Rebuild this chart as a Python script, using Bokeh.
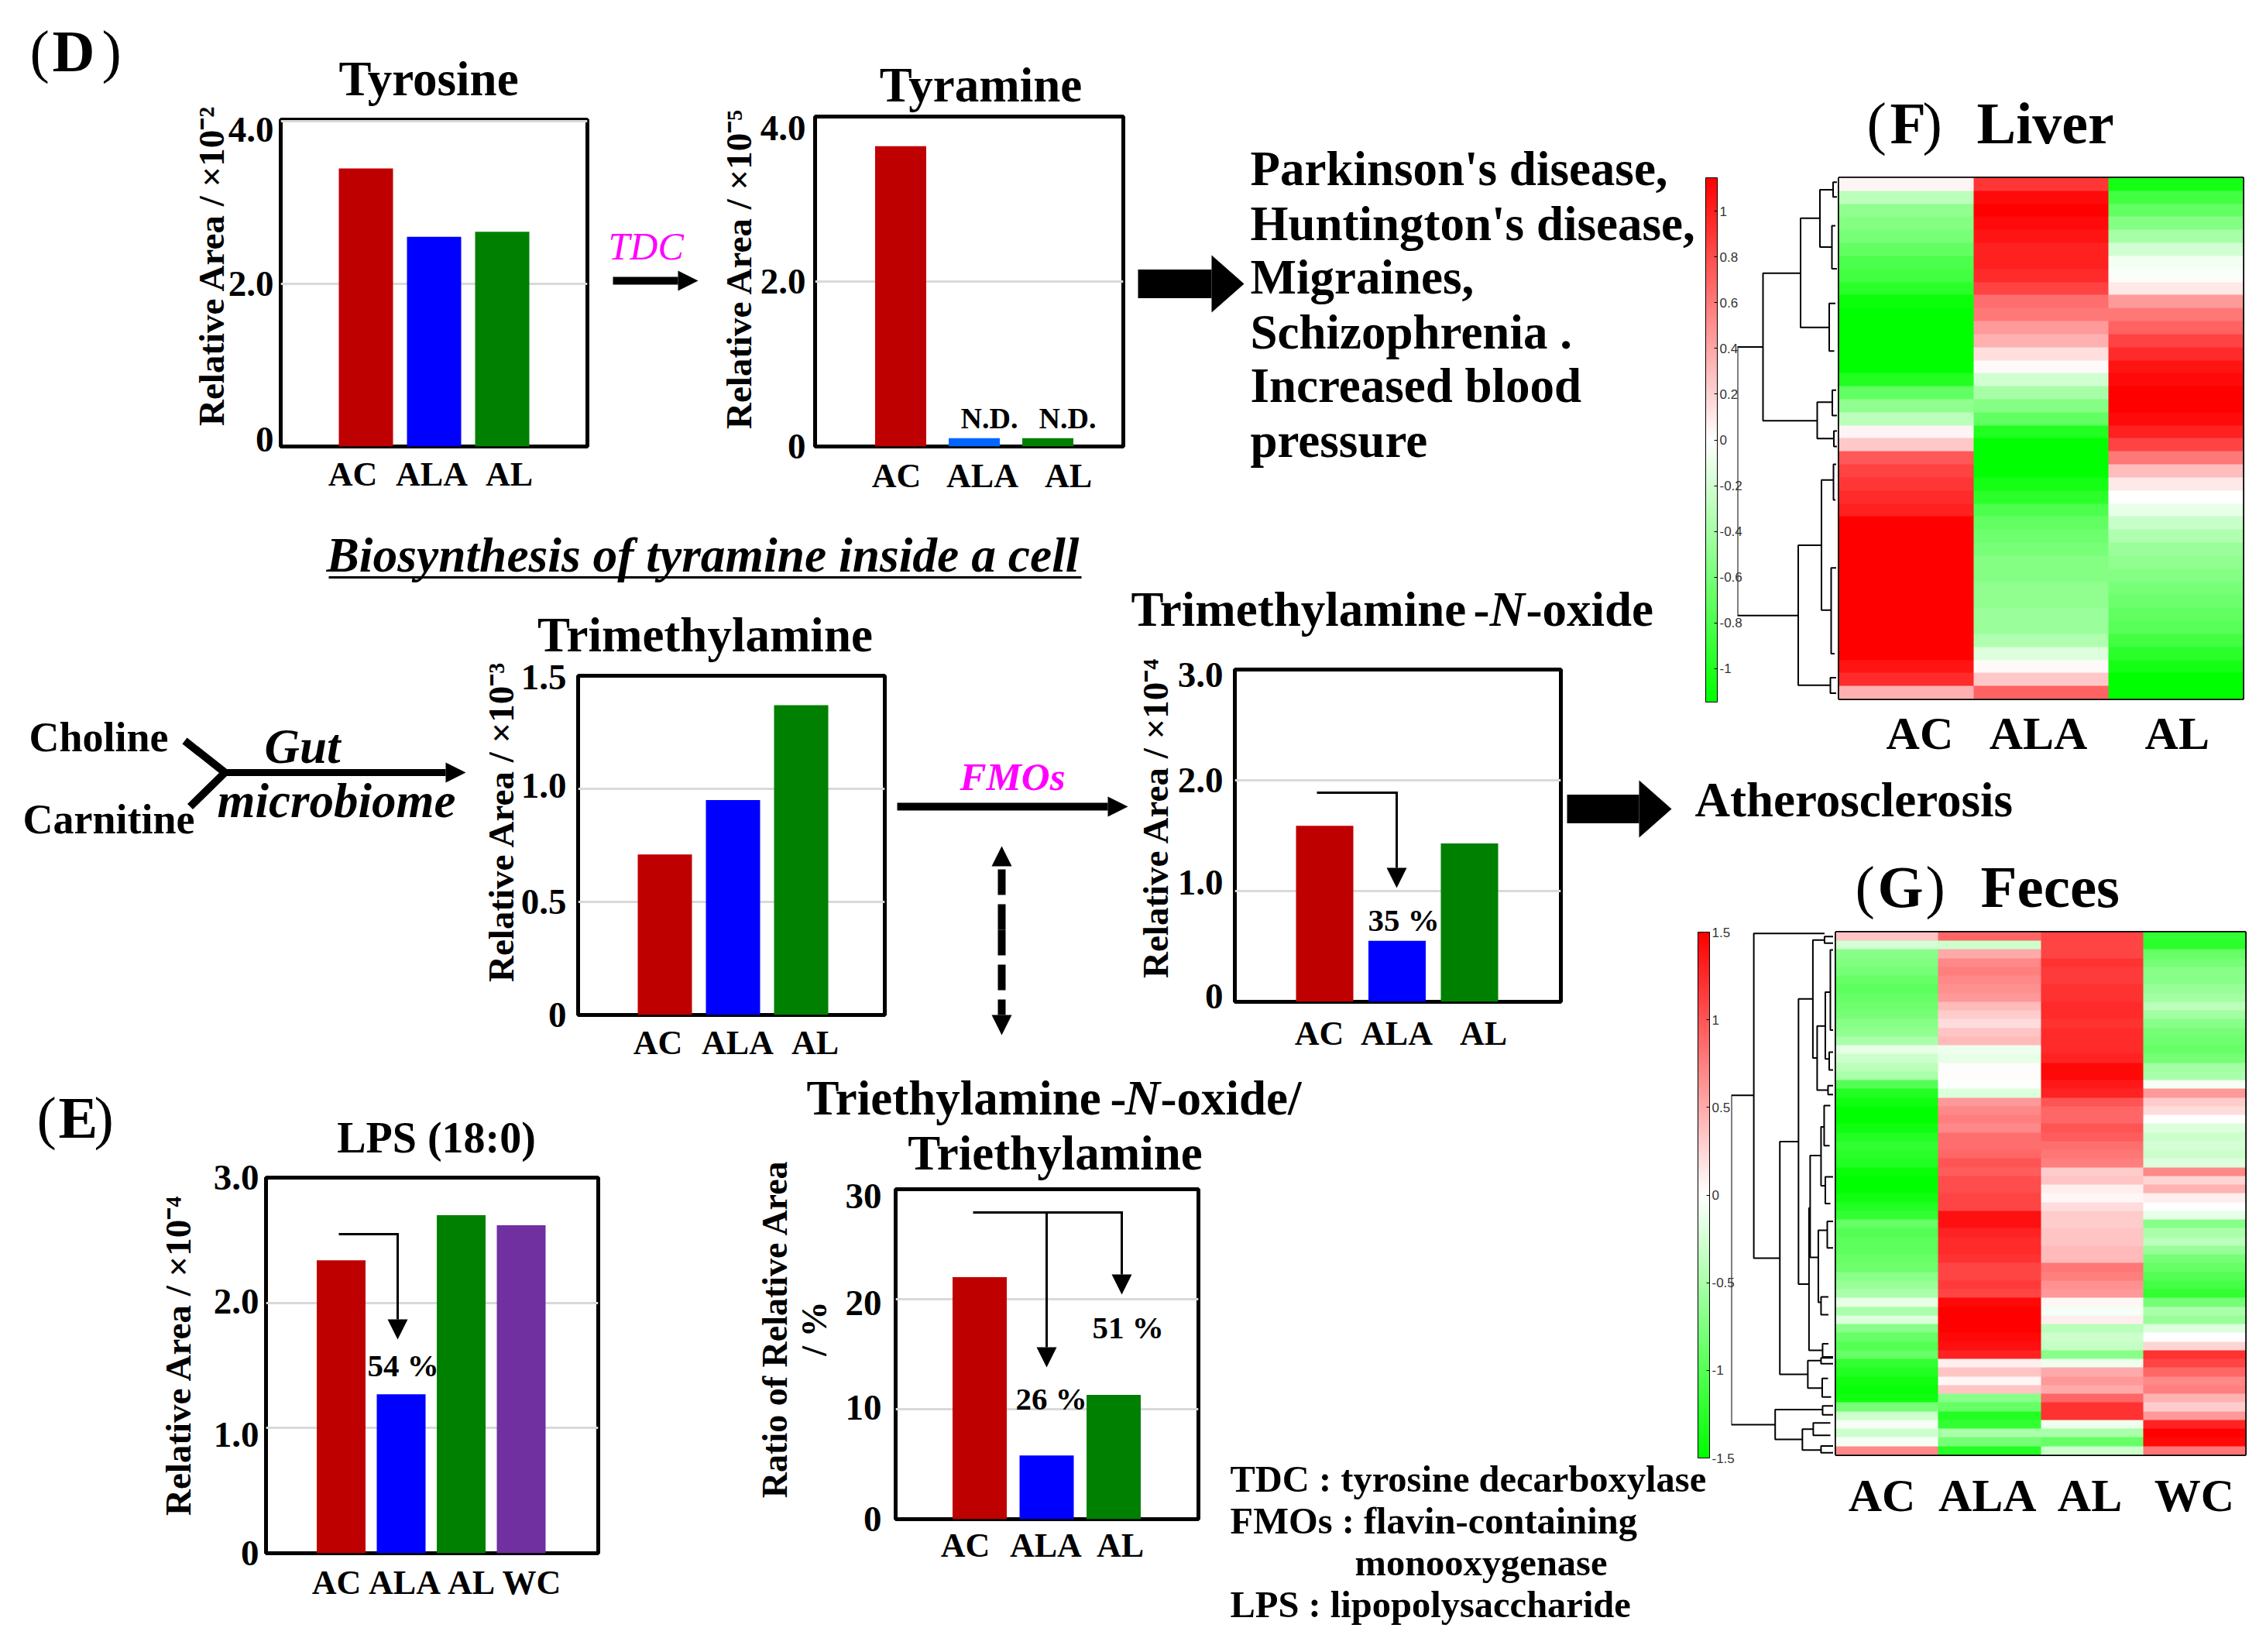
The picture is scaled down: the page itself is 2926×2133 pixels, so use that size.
import math
import numpy as np
from bokeh.plotting import figure
from bokeh.models import Range1d, FixedTicker, LinearColorMapper, ColorBar, NumeralTickFormatter
from bokeh.core.properties import value
from bokeh.embed import file_html
from bokeh.resources import INLINE

# ---------- data ----------
tyrosine = [3.42, 2.58, 2.64]
tyramine = [3.64, 0.10, 0.10]
trimethylamine = [0.71, 0.95, 1.37]
tmao = [1.59, 0.55, 1.43]
lps = [2.34, 1.27, 2.70, 2.62]
ratio = [22.0, 5.8, 11.3]
groups3 = ["AC", "ALA", "AL"]
groups4 = ["AC", "ALA", "AL", "WC"]

liver_ac = [.05,-.3,-.5,-.55,-.6,-.7,-.8,-.85,-.95,-1.1,-1.15,-1.15,-1.15,-1.15,-1.15,-1.0,-.7,-.5,-.3,.05,
            .25,.75,.85,.9,.95,1.0,1.15,1.15,1.15,1.15,1.15,1.15,1.15,1.15,1.15,1.15,1.15,1.05,.95,.35]
liver_ala = [.9,1.1,1.15,1.1,1.05,1.0,1.0,.95,.85,.65,.6,.45,.35,.15,.02,-.2,-.4,-.55,-.7,-1.0,
             -1.15,-1.15,-1.15,-1.05,-.95,-.8,-.7,-.65,-.6,-.55,-.55,-.5,-.5,-.45,-.45,-.35,-.15,.02,.25,.7]
liver_al = [-1.05,-.85,-.7,-.55,-.4,-.2,-.05,-.02,.1,.45,.6,.7,.85,.95,1.05,1.1,1.15,1.15,1.1,1.0,
            .85,.6,.3,.1,0,-.1,-.25,-.35,-.45,-.5,-.55,-.6,-.65,-.7,-.75,-.85,-.95,-1.05,-1.15,-1.15]

feces_ac = [.35,-.25,-.7,-.75,-.8,-.9,-.95,-.9,-.85,-.8,-.7,-.65,-.5,-.15,-.3,-.4,-.5,-1.0,-1.3,-1.4,
            -1.5,-1.5,-1.4,-1.3,-1.2,-1.25,-1.3,-1.45,-1.5,-1.5,-1.4,-1.3,-1.2,-.9,-1.0,-.95,-.95,-.9,-.85,-.7,
            -.6,-.5,-.15,-.5,-.2,-.7,-.9,-1.0,-.9,-1.2,-1.3,-1.4,-1.45,-1.4,-.8,-.3,-.05,-.3,-.05,.7]
feces_ala = [.9,-.3,.5,.7,.75,.7,.65,.6,.4,.3,.2,.35,.4,-.1,-.15,.02,.02,-.02,-.2,.6,
             .7,.75,.7,.85,.85,.9,1.0,.95,1.05,1.05,1.1,1.1,1.4,1.4,1.3,1.25,1.25,1.2,1.1,1.1,
             1.15,1.1,1.45,1.5,1.5,1.5,1.45,1.4,1.3,.1,.35,.05,.35,-.7,-.9,-1.3,-1.2,-.5,-.8,-1.3]
feces_al = [1.1,1.1,1.1,1.2,1.15,1.15,1.2,1.2,1.25,1.25,1.2,1.25,1.25,1.25,1.3,1.45,1.45,1.35,1.3,1.0,
            .9,.9,1.0,.95,.85,.8,.75,.3,.35,.1,.05,.2,.3,.3,.35,.35,.4,.4,.8,.75,
            .65,.6,.05,-.05,.1,-.4,-.3,-.35,-.7,-.1,.5,.6,.5,.9,1.2,1.2,-.1,-.5,-.9,-.3]
feces_wc = [-1.2,-1.25,-.9,-.8,-.7,-.7,-.6,-.55,-.4,-.55,-.7,-.8,-.85,-.9,-.8,-.55,-.5,-.05,.6,.3,
            .2,.0,-.2,-.3,-.25,-.3,-.2,.7,.25,.45,.1,.0,-.15,-.7,-.5,-.4,-.6,-.8,-.9,-1.0,
            -1.1,-1.2,-.8,-.5,-.6,-.2,.0,.25,1.2,1.1,.9,.7,.75,.45,.3,.6,1.3,1.5,1.45,.8]

# dendrogram merges: (merge height, upper branch row, lower branch row, upper child height, lower child height)
dendro_liver = [
    (192,606,1210,258,349),(258,440,772,355,398),(355,316,562,405,429),(405,252,381,439,436),
    (439,235,268,450,450),(436,333,430,445,450),(429,508,615,445,442),(398,730,812,437,441),
    (437,703,760,447,450),(441,795,830,450,450),(349,1052,1367,409,432),(409,905,1198,440,434),
    (440,870,950,447,445),(434,1103,1296,447,443),(432,1350,1385,447,447),
]
dendro_feces = [
    (175,547,1287,233,288),(233,183,913,415,300),(300,651,1174,348,372),(348,330,971,385,375),
    (385,198,463,415,396),(415,190,205,437,437),(396,391,535,417,424),(417,315,465,430,427),
    (424,525,545,437,437),(430,220,400,437,437),(427,450,490,437,437),(375,800,1120,378,410),
    (378,682,911,406,399),(406,618,750,414,417),(414,570,660,430,428),(417,730,790,437,430),
    (399,850,1012,422,406),(422,830,890,437,437),(406,1000,1040,425,425),(410,1105,1135,425,437),
    (372,1143,1205,406,409),(406,1137,1150,437,437),(409,1183,1225,424,432),(288,1253,1320,410,358),
    (410,1245,1265,437,437),(358,1297,1344,386,406),(386,1283,1311,430,430),(406,1335,1350,437,437),
]

# ---------- style and layout ----------
FONT = "Liberation Serif"
RED, BLUE, GREEN, PURPLE, LBLUE = "#BF0000", "#0000FF", "#008000", "#7030A0", "#0066FF"
W, H = 2910, 2117
children = []


def place(p, x, y):
    p.styles = {"position": "absolute", "left": f"{x}px", "top": f"{y}px"}
    children.append(p)


def bar_chart(vals, cols, labels, L, R, T, B, ymax, ticks, tick_labels, c0, pitch, barw, label_x, xstand=14,
              shift=None, ystand=9):
    ml, mr, mt, mb = 140, 6, 40, 90
    p = figure(width=ml + (R - L) + mr, height=mt + (B - T) + mb, output_backend="svg", toolbar_location=None,
               x_range=Range1d((L - c0) / pitch, (R - c0) / pitch), y_range=Range1d(0, ymax),
               min_border_left=ml, min_border_right=mr, min_border_top=mt, min_border_bottom=mb,
               background_fill_color=None, border_fill_color=None)
    p.vbar(x=list(range(len(vals))), top=vals, width=barw / pitch, color=cols, line_width=0)
    p.outline_line_color = "black"
    p.outline_line_width = 5
    p.xgrid.visible = False
    p.ygrid.ticker = FixedTicker(ticks=ticks)
    p.ygrid.grid_line_color = "#D9D9D9"
    p.ygrid.grid_line_width = 3
    xt = [round((v - c0) / pitch, 3) for v in label_x]
    p.xaxis.ticker = FixedTicker(ticks=xt)
    p.xaxis.major_label_overrides = dict(zip(xt, labels))
    # the reference's tick labels sit a few pixels off their grid lines
    scale = (B - T) / ymax
    yt = [round(t - (s / scale), 4) for t, s in zip(ticks, shift or [0] * len(ticks))]
    p.yaxis.ticker = FixedTicker(ticks=yt)
    p.yaxis.major_label_overrides = dict(zip(yt, tick_labels))
    for ax, size, st in ((p.xaxis, "44px", xstand), (p.yaxis, "47px", ystand)):
        ax.major_tick_line_color = None
        ax.minor_tick_line_color = None
        ax.axis_line_color = None
        ax.major_label_text_font = FONT
        ax.major_label_text_font_style = "bold"
        ax.major_label_text_font_size = size
        ax.major_label_text_color = "black"
        ax.major_label_standoff = st
    p.yaxis.major_label_orientation = "horizontal"
    place(p, L - ml, T - mt)
    return p


bar_chart(tyrosine, [RED, BLUE, GREEN], groups3, 362, 758, 154, 576, 4.02, [0, 2, 4], ["0", "2.0", "4.0"],
          472, 88, 70, [455, 557, 657], xstand=5, shift=[-9, 0, 11], ystand=3)
bar_chart(tyramine, [RED, LBLUE, GREEN], groups3, 1052, 1450, 150, 576, 4.0, [0, 2, 4], ["0", "2.0", "4.0"],
          1162.5, 95, 66, [1157, 1268, 1379], xstand=7, shift=[0, 0, 15], ystand=6)
bar_chart(trimethylamine, [RED, BLUE, GREEN], groups3, 746, 1142, 872, 1310, 1.5, [0, .5, 1, 1.5], ["0", "0.5", "1.0", "1.5"],
          858, 88, 70, [849, 952, 1052], xstand=5, shift=[0, 0, -4, 2])
bar_chart(tmao, [RED, BLUE, GREEN], groups3, 1594, 2015, 864, 1293, 3.0, [0, 1, 2, 3], ["0", "1.0", "2.0", "3.0"],
          1710, 93.5, 74, [1703, 1803, 1915], xstand=10, shift=[-7, -11, 0, 7])
bar_chart(lps, [RED, BLUE, GREEN, PURPLE], groups4, 343, 772, 1520, 2005, 3.0, [0, 1, 2, 3], ["0", "1.0", "2.0", "3.0"],
          440, 77.5, 63, [434, 522, 608, 686], xstand=7, shift=[0, 9, -2, 0], ystand=3)
bar_chart(ratio, [RED, BLUE, GREEN], groups3, 1156, 1547, 1535, 1961, 30, [0, 10, 20, 30], ["0", "10", "20", "30"],
          1264.5, 86.5, 70, [1246, 1350, 1446], xstand=3, shift=[0, -2, 5, 9], ystand=12)

# ---------- heat maps ----------
heat_palette = [f"#{int(255 * i / 127):02x}ff{int(255 * i / 127):02x}" for i in range(128)] + \
               [f"#ff{int(255 * (127 - i) / 127):02x}{int(255 * (127 - i) / 127):02x}" for i in range(128)]


def heatmap(cols, labels, L, R, T, B, limit, tick_pos, stand):
    arr = np.array(cols, dtype=float).T[::-1]
    mb = 100
    p = figure(width=R - L + 4, height=B - T + mb + 2, output_backend="svg", toolbar_location=None,
               x_range=Range1d(0, len(cols)), y_range=Range1d(0, arr.shape[0]),
               min_border_left=2, min_border_right=2, min_border_top=2, min_border_bottom=mb,
               background_fill_color=None, border_fill_color=None)
    mapper = LinearColorMapper(palette=heat_palette, low=-limit, high=limit)
    p.image(image=[arr], x=0, y=0, dw=len(cols), dh=arr.shape[0], color_mapper=mapper)
    p.grid.visible = False
    p.yaxis.visible = False
    p.xaxis.ticker = FixedTicker(ticks=tick_pos)
    p.xaxis.major_label_overrides = dict(zip(tick_pos, labels))
    p.xaxis.major_tick_line_color = None
    p.xaxis.minor_tick_line_color = None
    p.xaxis.axis_line_color = None
    p.xaxis.major_label_text_font = FONT
    p.xaxis.major_label_text_font_style = "bold"
    p.xaxis.major_label_text_font_size = "60px"
    p.xaxis.major_label_text_color = "black"
    p.xaxis.major_label_standoff = stand
    p.outline_line_color = "black"
    p.outline_line_width = 3
    place(p, L - 2, T - 2)


def dendrogram(merges, L, R, T, B, z0, z1, r0, r1):
    xs, ys = [], []
    for h, up, lo, cu, cl in merges:
        xs.append([cu, h, h, cl])
        ys.append([up, up, lo, lo])
    p = figure(width=R - L, height=B - T, output_backend="svg", toolbar_location=None,
               x_range=Range1d(z0, z1), y_range=Range1d(r1, r0), min_border=0,
               x_axis_type=None, y_axis_type=None,
               background_fill_color=None, border_fill_color=None, outline_line_color=None)
    p.multi_line(xs=xs, ys=ys, line_color="black", line_width=2)
    p.grid.visible = False
    place(p, L, T)


def colorbar(L, T, B, limit, ticks, digits):
    p = figure(width=110, height=B - T + 24, output_backend="svg", toolbar_location=None,
               x_range=Range1d(0, 1), y_range=Range1d(0, 1), min_border=0,
               x_axis_type=None, y_axis_type=None,
               background_fill_color=None, border_fill_color=None, outline_line_color=None)
    p.grid.visible = False
    mapper = LinearColorMapper(palette=heat_palette, low=-limit, high=limit)
    cb = ColorBar(color_mapper=mapper, ticker=FixedTicker(ticks=ticks), formatter=NumeralTickFormatter(format=digits),
                  location=(0, 12), width=15, height=B - T, padding=0, margin=0,
                  bar_line_color="black", bar_line_width=1, border_line_color=None, background_fill_color=None,
                  major_tick_line_color="black", major_tick_in=4, major_tick_out=0, minor_tick_line_color=None,
                  major_label_text_font="Liberation Sans", major_label_text_font_size="17px",
                  major_label_text_color="#333333", label_standoff=3)
    p.add_layout(cb, "center")
    place(p, L, T - 12)


heatmap([liver_ac, liver_ala, liver_al], groups3, 2374, 2896, 229, 902, 1.146, [0.6, 1.48, 2.51], 5)
dendrogram(dendro_liver, 2243, 2372, 229, 902, 192, 450, 225, 1398)
colorbar(2202, 229, 906, 1.146, [-1, -.8, -.6, -.4, -.2, 0, .2, .4, .6, .8, 1], "0.[0]")

heatmap([feces_ac, feces_ala, feces_al, feces_wc], groups4, 2370, 2899, 1203, 1878, 1.5, [0.45, 1.48, 2.48, 3.5], 13)
dendrogram(dendro_feces, 2235, 2367, 1203, 1878, 175, 438, 180, 1355)
colorbar(2192, 1203, 1882, 1.5, [-1.5, -1, -.5, 0, .5, 1, 1.5], "0.[0]")

# ---------- annotation layer ----------
ov = figure(width=W, height=H, output_backend="svg", toolbar_location=None,
            x_range=Range1d(8, W + 8), y_range=Range1d(H + 8, 8), min_border=0,
            x_axis_type=None, y_axis_type=None,
            background_fill_color=None, border_fill_color=None, outline_line_color=None)
ov.grid.visible = False


def txt(x, y, s, size=63, style="bold", color="black", align="left", angle=0.0, font=FONT):
    if angle:
        x -= 2
    else:
        y -= 4
        if align == "left":
            x -= 3
    ov.text(x=[x], y=[y], text=[s], text_font=value(font), text_font_size=f"{size}px", text_font_style=style,
            text_color=color, text_align=align, text_baseline="middle", angle=angle)


def panel(xo, letter, xl, xc, y):
    txt(xo, y, "(", 76, "normal")
    txt(xl, y, letter, 76)
    txt(xc, y, ")", 76, "normal")


def arrow(points, w, head, half, dash="solid"):
    xs = [q[0] for q in points]
    ys = [q[1] for q in points]
    x1, y1 = points[-1]
    x0, y0 = points[-2]
    d = math.hypot(x1 - x0, y1 - y0)
    ux, uy = (x1 - x0) / d, (y1 - y0) / d
    bx, by = x1 - ux * head, y1 - uy * head
    xs[-1], ys[-1] = bx, by
    ov.line(xs, ys, line_color="black", line_width=w, line_dash=dash, line_join="miter")
    ov.patch([x1, bx - uy * half, bx + uy * half], [y1, by + ux * half, by - ux * half], color="black", line_width=0)


# panels
panel(41, "D", 70, 134, 69)
panel(50, "E", 78, 124, 1446)
panel(2413, "F", 2443, 2485, 162)
txt(2555, 162, "Liver", 76)
panel(2398, "G", 2427, 2489, 1148)
txt(2560, 1148, "Feces", 77)

# chart titles
txt(553, 105, "Tyrosine", align="center")
txt(1266, 113, "Tyramine", align="center")
txt(910, 823, "Trimethylamine", align="center")
txt(563, 1472, "LPS (18:0)", 56, align="center")
txt(1463, 790, "Trimethylamine")
txt(1905, 790, "-")
txt(1926, 790, "N", 63, "bold italic")
txt(1973, 790, "-oxide")
txt(1044, 1421, "Triethylamine")
txt(1436, 1421, "-")
txt(1455, 1421, "N", 63, "bold italic")
txt(1501, 1421, "-oxide/")
txt(1362, 1492, "Triethylamine", align="center")

# y titles
v = math.pi / 2
txt(274, 342, "Relative Area / ×10⁻²", 47, align="center", angle=v)
txt(955, 346, "Relative Area / ×10⁻⁵", 47, align="center", angle=v)
txt(648, 1060, "Relative Area / ×10⁻³", 47, align="center", angle=v)
txt(1493, 1055, "Relative Area / ×10⁻⁴", 47, align="center", angle=v)
txt(231, 1749, "Relative Area / ×10⁻⁴", 47, align="center", angle=v)
txt(1002, 1715, "Ratio of Relative Area", 46, align="center", angle=v)
txt(1053, 1715, "/ %", 46, align="center", angle=v)

# notes
txt(1277, 543, "N.D.", 38, align="center")
txt(1378, 543, "N.D.", 38, align="center")
txt(1812, 1191, "35 %", 41, align="center")
txt(520, 1766, "54 %", 41, align="center")
txt(1456, 1717, "51 %", 41, align="center")
txt(1357, 1809, "26 %", 41, align="center")

txt(788, 321, "TDC", 50, "italic", "#FF00FF")
txt(1307, 1006, "FMOs", 51, "bold italic", "#FF00FF", align="center")
txt(390, 967, "Gut", 63, "bold italic", align="center")
txt(283, 1037, "microbiome", 63, "bold italic")
txt(40, 955, "Choline", 54)
txt(32, 1061, "Carnitine", 54)
txt(424, 720, "Biosynthesis of tyramine inside a cell", 63.5, "bold italic")
ov.line([424, 1396], [745, 745], line_color="black", line_width=3)

for y, s in zip([221, 292, 361, 432, 501, 572],
                ["Parkinson's disease,", "Huntington's disease,", "Migraines,", "Schizophrenia .", "Increased blood", "pressure"]):
    txt(1617, y, s, 63)
txt(2191, 1036, "Atherosclerosis", 63)

txt(1591, 1913, "TDC : tyrosine decarboxylase", 48.5)
txt(1591, 1967, "FMOs : flavin-containing", 48.5)
txt(1752, 2021, "monooxygenase", 48.5)
txt(1591, 2075, "LPS : lipopolysaccharide", 48.5)

# arrows
arrow([(791, 362), (901, 362)], 10, 26, 13)
arrow([(1469, 366), (1606, 366)], 37, 42, 37)
arrow([(2023, 1044), (2158, 1044)], 37, 42, 37)
ov.line([238, 290, 245], [956, 997, 1041], line_color="black", line_width=10, line_join="miter")
arrow([(290, 997), (601, 997)], 9, 26, 13)
arrow([(1158, 1041), (1456, 1041)], 10, 26, 13)
arrow([(1293, 1200), (1293, 1092)], 10, 26, 13, "33 12")
arrow([(1293, 1200), (1293, 1336)], 10, 26, 13, "33 12")
arrow([(1700, 1023), (1803, 1023), (1803, 1146)], 3, 26, 13)
arrow([(437, 1593), (513, 1593), (513, 1729)], 3, 26, 13)
arrow([(1256, 1565), (1448, 1565), (1448, 1671)], 3, 26, 13)
arrow([(1351, 1565), (1351, 1765)], 3, 26, 13)

place(ov, 8, 8)

open("out.html", "w").write(file_html(children, INLINE))
